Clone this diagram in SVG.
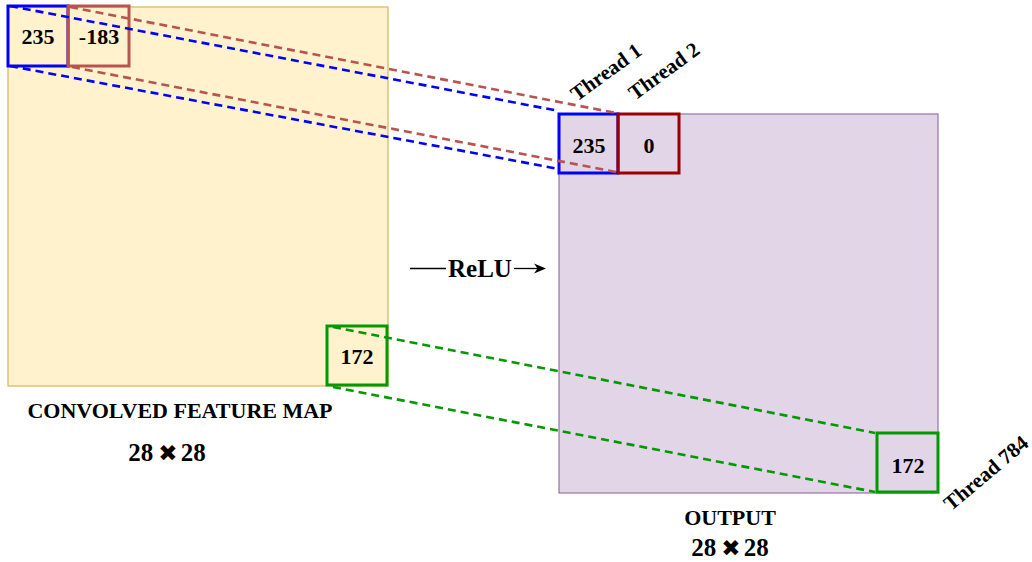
<svg xmlns="http://www.w3.org/2000/svg" width="1032" height="562" viewBox="0 0 1032 562">
  <style>
    text { font-family: "Liberation Serif", "Times New Roman", serif; font-weight: bold; fill: #000; }
    .num { font-size: 22px; text-anchor: middle; dominant-baseline: central; }
    .cap { font-size: 22px; text-anchor: middle; }
    .dim { font-size: 25px; text-anchor: middle; }
    .thr { font-size: 21px; text-anchor: middle; dominant-baseline: central; }
    .cell { stroke-width: 3; fill: none; }
    .dash { stroke-width: 2.6; stroke-dasharray: 8 5; fill: none; }
    .x { font-family: "DejaVu Sans", sans-serif; font-size: 23px; }
  </style>

  <!-- input map -->
  <g id="feature-map">
    <rect x="8" y="7" width="380" height="379" fill="#fff2cc" stroke="#d6b656" stroke-width="1.2"/>
    <text class="cap" x="180" y="418">CONVOLVED FEATURE MAP</text>
    <text class="dim" x="167" y="461">28<tspan class="x" dx="5">✖</tspan><tspan dx="3">28</tspan></text>
  </g>

  <!-- output map -->
  <g id="output-map">
    <rect x="559" y="114" width="379" height="379" fill="#e1d5e7" stroke="#9673a6" stroke-width="1.2"/>
    <text class="cap" x="730" y="525">OUTPUT</text>
    <text class="dim" x="730" y="556">28<tspan class="x" dx="5">✖</tspan><tspan dx="3">28</tspan></text>
  </g>

  <!-- input cells -->
  <g id="in-cell-1">
    <rect class="cell" x="8" y="6" width="60" height="60" stroke="#0000ff"/>
    <text class="num" x="38" y="36">235</text>
  </g>
  <g id="in-cell-2">
    <rect class="cell" x="68" y="6" width="61" height="60" stroke="#b85450"/>
    <text class="num" x="99" y="36">-183</text>
  </g>
  <g id="in-cell-784">
    <rect class="cell" x="327" y="326" width="60" height="59" stroke="#009900"/>
    <text class="num" x="357" y="356">172</text>
  </g>

  <!-- output cells -->
  <g id="out-cell-1">
    <rect class="cell" x="559" y="114" width="59" height="59" stroke="#0000ff"/>
    <text class="num" x="589" y="145">235</text>
  </g>
  <g id="out-cell-2">
    <rect class="cell" x="618" y="114" width="61" height="59" stroke="#990000"/>
    <text class="num" x="649" y="145">0</text>
  </g>
  <g id="out-cell-784">
    <rect class="cell" x="877" y="433" width="61" height="59" stroke="#009900"/>
    <text class="num" x="908" y="465">172</text>
  </g>

  <!-- thread labels -->
  <g id="thread-labels">
    <text class="thr" transform="translate(606 72) rotate(-36)">Thread 1</text>
    <text class="thr" transform="translate(664 71) rotate(-36)">Thread 2</text>
    <text class="thr" transform="translate(986 473) rotate(-40)">Thread 784</text>
  </g>

  <!-- ReLU operator -->
  <g id="relu">
    <line x1="410" y1="268.5" x2="446" y2="268.5" stroke="#000" stroke-width="1.3"/>
    <text x="480" y="277" font-size="25" text-anchor="middle">ReLU</text>
    <line x1="514" y1="268.5" x2="543" y2="268.5" stroke="#000" stroke-width="1.3"/>
    <path d="M534 263.5 L546 268.5 L534 273.5 L537.5 268.5 Z" fill="#000"/>
  </g>

  <!-- mapping connectors -->
  <g id="connectors">
    <line class="dash" x1="10" y1="6" x2="559" y2="111" stroke="#0000ff"/>
    <line class="dash" x1="10" y1="66" x2="559" y2="169" stroke="#0000ff"/>
    <line class="dash" x1="70" y1="7" x2="616" y2="113" stroke="#b85450"/>
    <line class="dash" x1="72" y1="67" x2="616" y2="172" stroke="#b85450"/>
    <line class="dash" x1="333" y1="327" x2="875" y2="433" stroke="#009900"/>
    <line class="dash" x1="333" y1="387" x2="875" y2="492" stroke="#009900"/>
  </g>
</svg>
